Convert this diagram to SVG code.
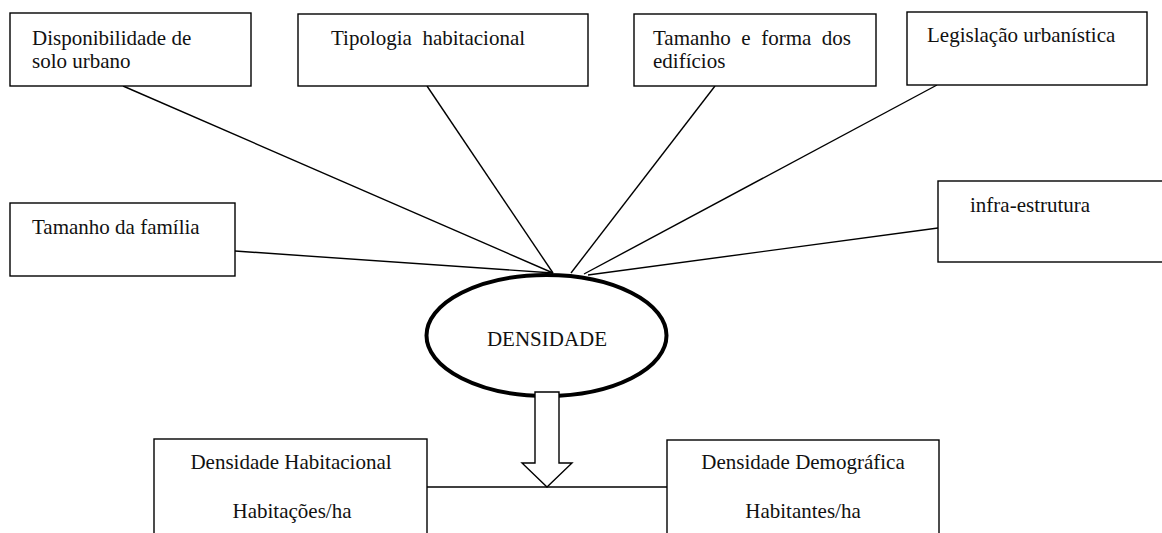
<svg xmlns="http://www.w3.org/2000/svg" width="1162" height="533" viewBox="0 0 1162 533">
<style>
.box{fill:#fff;stroke:#000;stroke-width:1.4}
.t{font-family:"Liberation Serif","Times New Roman",serif;font-size:21px;fill:#111}
.m{text-anchor:middle}
.ln{stroke:#000;stroke-width:1.4;fill:none}
</style>
<rect width="1162" height="533" fill="#fff"/>
<g id="connectors">
<line class="ln" x1="123" y1="86" x2="553" y2="273"/>
<line class="ln" x1="427" y1="86" x2="553" y2="273"/>
<line class="ln" x1="715" y1="86" x2="571" y2="273"/>
<line class="ln" x1="937" y1="85" x2="584" y2="274"/>
<line class="ln" x1="235" y1="251" x2="553" y2="273"/>
<line class="ln" x1="938" y1="228" x2="588" y2="275"/>
<line class="ln" x1="427" y1="487" x2="667" y2="487"/>
</g>
<g id="n-solo"><rect class="box" x="10" y="13" width="241" height="73"/><text class="t" x="32" y="45">Disponibilidade de</text><text class="t" x="32" y="68">solo urbano</text></g>
<g id="n-tipologia"><rect class="box" x="298" y="14" width="290" height="72"/><text class="t" x="331" y="45" xml:space="preserve">Tipologia  habitacional</text></g>
<g id="n-tamanho"><rect class="box" x="634" y="14" width="242" height="72"/><text class="t" x="653" y="45" xml:space="preserve">Tamanho  e  forma  dos</text><text class="t" x="653" y="68">edifícios</text></g>
<g id="n-legislacao"><rect class="box" x="907" y="12" width="240" height="73"/><text class="t" x="927" y="42">Legislação urbanística</text></g>
<g id="n-familia"><rect class="box" x="10" y="203" width="225" height="73"/><text class="t" x="32" y="234">Tamanho da família</text></g>
<g id="n-infra"><rect class="box" x="938" y="181" width="230" height="81"/><text class="t" x="970" y="212">infra-estrutura</text></g>
<g id="n-densidade"><ellipse cx="546.5" cy="335.5" rx="120" ry="60.5" fill="#fff" stroke="#000" stroke-width="4"/><text class="t m" x="547" y="346">DENSIDADE</text></g>
<g id="n-seta"><path d="M535,392 H559 V463 H572 L547,487 L522,463 H535 Z" fill="#fff" stroke="#000" stroke-width="1.4"/></g>
<g id="n-habitacional"><rect class="box" x="154" y="439" width="273" height="100"/><text class="t m" x="291" y="469">Densidade Habitacional</text><text class="t m" x="292" y="518">Habitações/ha</text></g>
<g id="n-demografica"><rect class="box" x="667" y="440" width="272" height="100"/><text class="t m" x="803" y="469">Densidade Demográfica</text><text class="t m" x="803" y="518">Habitantes/ha</text></g>
</svg>
